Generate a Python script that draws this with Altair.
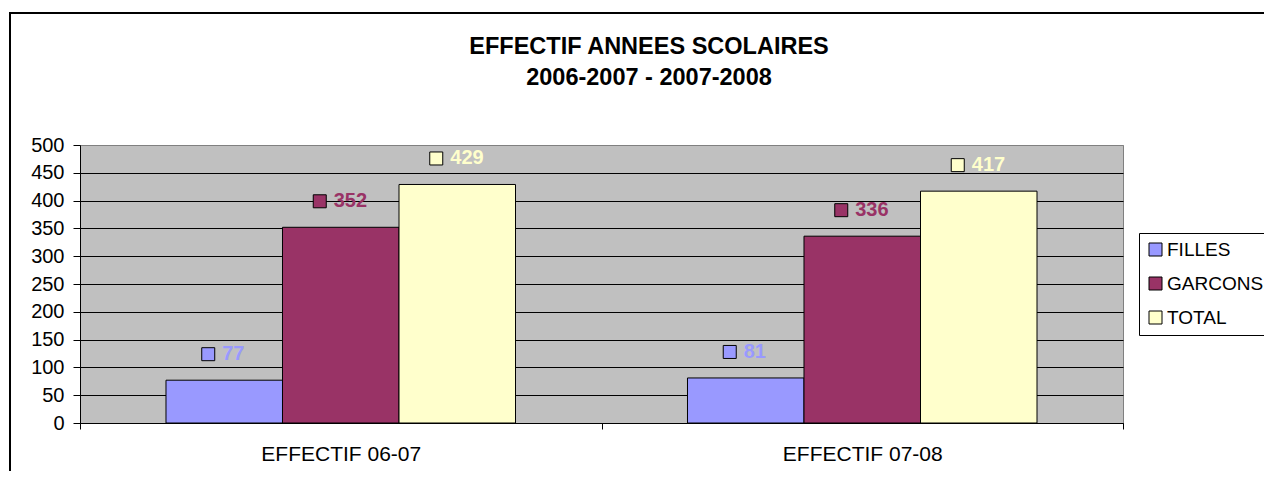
import altair as alt
import pandas as pd

# ---- data ----
groups = ["EFFECTIF 06-07", "EFFECTIF 07-08"]
series = ["FILLES", "GARCONS", "TOTAL"]
filles = [77, 81]
garcons = [352, 336]
total = [429, 417]
colors = ["#9999FF", "#993366", "#FFFFCC"]
y_ticks = [0, 50, 100, 150, 200, 250, 300, 350, 400, 450, 500]
title_lines = ["EFFECTIF ANNEES SCOLAIRES", "2006-2007 - 2007-2008"]

rows = []
for i, g in enumerate(groups):
    for s, vals in zip(series, [filles, garcons, total]):
        rows.append({"groupe": g, "serie": s, "valeur": vals[i]})
df = pd.DataFrame(rows)

FONT = "Liberation Sans"

x_enc = alt.X(
    "groupe:N", sort=groups,
    scale=alt.Scale(paddingInner=0, paddingOuter=0),
    axis=alt.Axis(title=None, labelAngle=0, tickBand="extent", domainColor="black",
                  tickColor="black", tickSize=6, labelFontSize=21, labelFont=FONT,
                  labelColor="black", labelPadding=14, grid=False),
)
xoff = alt.XOffset("serie:N", sort=series,
                   scale=alt.Scale(domain=series, paddingInner=0, paddingOuter=0.738))
y_enc = alt.Y(
    "valeur:Q",
    scale=alt.Scale(domain=[y_ticks[0], y_ticks[-1]], nice=False),
    axis=alt.Axis(title=None, values=y_ticks, grid=True,
                  gridColor={"condition": {"test": f"datum.value === {y_ticks[-1]}",
                                           "value": "#808080"},
                             "value": "black"},
                  gridWidth=1, gridOpacity=1, domainColor="black", tickColor="black",
                  tickSize=7, labelFontSize=20, labelFont=FONT, labelColor="black",
                  labelPadding=9),
)
fill_scale = alt.Scale(domain=series, range=colors)

one = pd.DataFrame({"a": [0]})

frame = alt.Chart(one).mark_rect(
    fill=None, stroke="black", strokeWidth=2
).encode(x=alt.value(-70), y=alt.value(-132), x2=alt.value(1300), y2=alt.value(420))

title = alt.Chart(one).mark_text(
    text=title_lines, fontSize=23.5, fontWeight="bold", font=FONT, color="black",
    align="center", baseline="alphabetic", lineHeight=31,
).encode(x=alt.value(569), y=alt.value(-91))

bars = alt.Chart(df).mark_bar(stroke="black", strokeWidth=1).encode(
    x=x_enc, xOffset=xoff, y=y_enc,
    color=alt.Color("serie:N", sort=series, scale=fill_scale,
                    legend=alt.Legend(title=None, orient="none", legendX=1059, legendY=88,
                                      symbolType="square", symbolSize=169,
                                      symbolStrokeColor="black", symbolStrokeWidth=1,
                                      labelFontSize=19, labelFont=FONT, labelColor="black",
                                      labelOffset=2, rowPadding=14, padding=7,
                                      strokeColor="black", fillColor="white")),
)


def square_path(cx):
    # unit scale (size=4 -> 1px per unit), 13px square centred at cx
    return f"M {cx - 6.5} -6.5 h 13 v 13 h -13 Z"


def label_layers(n, sq_off, tx_off):
    base = alt.Chart(df).transform_filter(f"length(toString(datum.valeur)) == {n}")
    sq = base.mark_point(shape=square_path(sq_off), size=4, filled=True, opacity=1,
                         stroke="black", strokeWidth=1, yOffset=-26).encode(
        x=x_enc, xOffset=xoff, y=y_enc,
        fill=alt.Fill("serie:N", sort=series, scale=fill_scale, legend=None),
    )
    tx = base.mark_text(align="left", baseline="middle", dx=tx_off, dy=-26, fontSize=20,
                        fontWeight="bold", font=FONT).encode(
        x=x_enc, xOffset=xoff, y=y_enc, text="valeur:Q",
        fill=alt.Fill("serie:N", sort=series, scale=fill_scale, legend=None),
    )
    return [sq, tx]


layers = [frame, title, bars] + label_layers(2, -16, -2) + label_layers(3, -21, -7)

chart = alt.layer(*layers).properties(
    width=1043, height=278,
    padding={"left": 72, "top": 137, "right": 141, "bottom": 48},
    autosize=alt.AutoSizeParams(type="none"),
    background="white",
).configure_view(fill="#C0C0C0", stroke="#808080", strokeWidth=1)

chart.save("out.html", embed_options={"renderer": "svg", "actions": False})
